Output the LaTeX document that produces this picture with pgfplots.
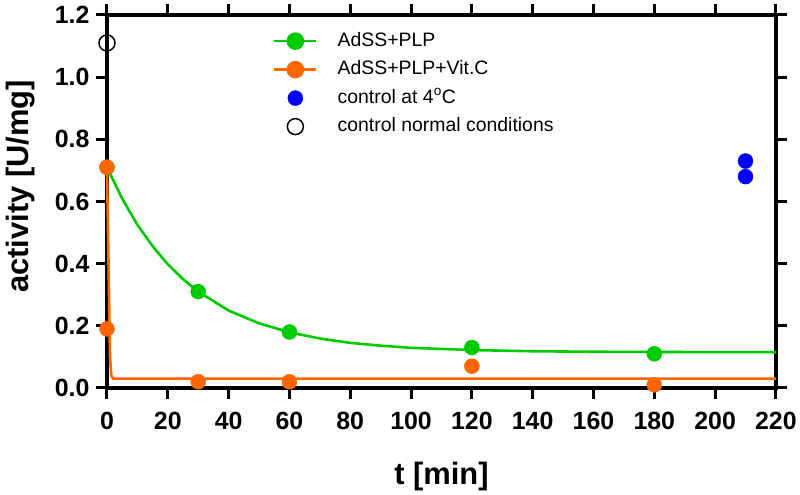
\documentclass[border=0pt]{standalone}
\usepackage{pgfplots}
\pgfplotsset{compat=1.18}
\usepackage{fontspec}
\setmainfont{Liberation Sans}
\definecolor{cgreen}{RGB}{0,204,0}
\definecolor{corange}{RGB}{255,102,0}
\definecolor{cblue}{RGB}{0,0,255}
\begin{document}
\begin{tikzpicture}
\begin{axis}[name=ax, scale only axis, width=669bp, height=373bp,
  xmin=0, xmax=220, ymin=0, ymax=1.2,
  xtick={0,20,40,60,80,100,120,140,160,180,200,220},
  ytick={0,0.2,0.4,0.6,0.8,1.0,1.2},
  axis line style={line width=3.2bp},
  every tick/.style={black, line width=3bp},
  major tick length=11bp,
  tick align=outside, tick pos=both,
  xticklabel pos=lower, yticklabel pos=left,
  /pgf/number format/assume math mode=true,
  ticklabel style={font=\bfseries\fontsize{25}{29}\selectfont},
  xticklabel style={yshift=-10bp},
  yticklabel style={xshift=-3bp, /pgf/number format/.cd, fixed, fixed zerofill, precision=1},
  xlabel={t [min]}, ylabel={activity [U/mg]},
  label style={font=\bfseries\fontsize{31}{36}\selectfont},
  xlabel style={at={([yshift=-89bp]rel axis cs:0.5,0)}, anchor=center},
  ylabel style={at={([xshift=-86bp]rel axis cs:0,0.54)}, anchor=center},
  clip=false,
  legend cell align=left,
  legend image code/.code={\draw[mark repeat=2,mark phase=2,#1] plot coordinates {(0bp,0bp)(21bp,0bp)(42bp,0bp)}; \path (-2bp,0bp) (60bp,0bp);},
  legend style={at={(rel axis cs:0.245,0.96)}, anchor=north west, draw=none, fill=none,
    font=\fontsize{19.5}{23}\selectfont, inner sep=0pt,
    nodes={inner sep=2bp, text height=14bp, text depth=4bp}, row sep=6.5bp},
]
\addplot[cgreen, line width=2.6bp, forget plot] coordinates {
(0,0.710)(5,0.609)(10,0.525)(15,0.456)(20,0.398)(25,0.350)(30,0.310)(40,0.249)(50,0.208)(60,0.179)(70,0.159)(80,0.145)(90,0.136)(100,0.129)(120,0.122)(140,0.118)(160,0.1165)(180,0.1157)(200,0.1153)(220,0.115)};
\addplot[corange, line width=2.6bp, forget plot] coordinates {
(0,0.71)(1.0,0.10)(1.4,0.04)(2,0.03)(220,0.03)};
\addplot[only marks, mark=*, mark size=7.5bp, cgreen, forget plot] coordinates {
(0,0.71)(30,0.31)(60,0.18)(120,0.13)(180,0.11)};
\addplot[only marks, mark=*, mark size=7.5bp, corange, forget plot] coordinates {
(0,0.71)(0,0.19)(30,0.02)(60,0.02)(120,0.07)(180,0.01)};
\addplot[only marks, mark=*, mark size=7.5bp, cblue, forget plot] coordinates {
(210,0.73)(210,0.68)};
\addplot[only marks, mark=o, mark size=8bp, black, line width=1.5bp, forget plot] coordinates {
(0,1.11)};
\addlegendimage{cgreen, line width=2.6bp, mark=*, mark size=7.5bp}
\addlegendentry{AdSS+PLP}
\addlegendimage{corange, line width=2.6bp, mark=*, mark size=7.5bp}
\addlegendentry{AdSS+PLP+Vit.C}
\addlegendimage{only marks, cblue, mark=*, mark size=7.5bp}
\addlegendentry{control at 4\textsuperscript{o}C}
\addlegendimage{only marks, black, mark=o, mark size=8bp, line width=1.5bp}
\addlegendentry{control normal conditions}
\end{axis}
\path ([xshift=-107bp,yshift=-105bp]ax.south west) rectangle ([xshift=24bp,yshift=15bp]ax.north east);
\end{tikzpicture}
\end{document}
